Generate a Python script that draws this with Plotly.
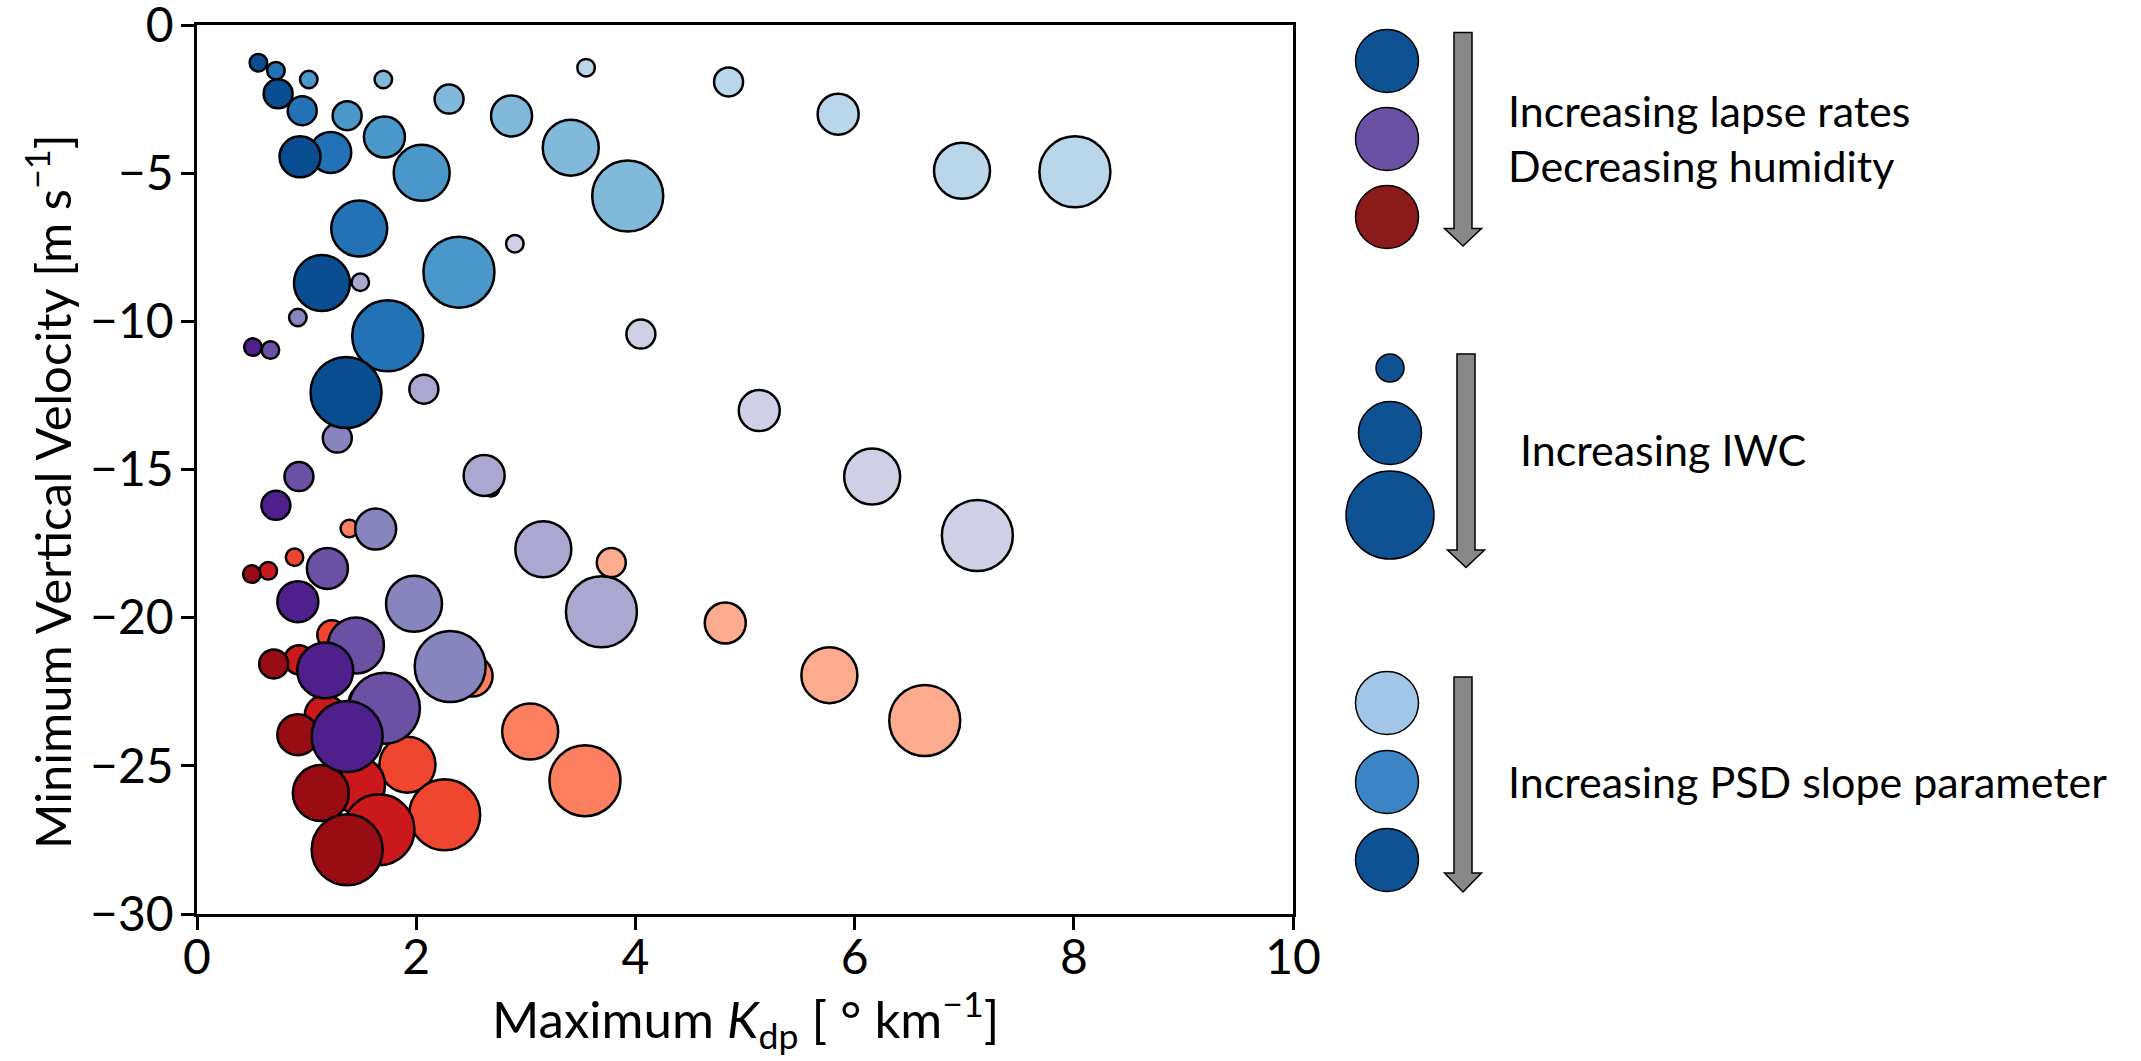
import plotly.graph_objects as go

# Each family holds 25 simulations, ordered by PSD slope level (0 = lowest)
# and, within a level, by IWC level (0 = smallest).
psd_level = [0] * 5 + [1] * 5 + [2] * 5 + [3] * 5 + [4] * 5
iwc_level = [0, 1, 2, 3, 4] * 5

# Moist, low lapse-rate environment (blues)
kdp_blue = [3.55, 4.85, 5.85, 6.98, 8.01,
            1.70, 2.30, 2.87, 3.41, 3.93,
            1.02, 1.37, 1.71, 2.05, 2.39,
            0.72, 0.96, 1.22, 1.48, 1.74,
            0.56, 0.74, 0.94, 1.14, 1.36]
w_blue = [-1.44, -1.92, -3.01, -4.92, -4.95,
          -1.84, -2.50, -3.07, -4.14, -5.77,
          -1.84, -3.06, -3.78, -4.99, -8.34,
          -1.54, -2.89, -4.30, -6.87, -10.49,
          -1.27, -2.32, -4.45, -8.71, -12.40]

# Intermediate environment (purples)
kdp_purple = [2.90, 4.05, 5.13, 6.16, 7.12,
              1.49, 2.07, 2.62, 3.16, 3.69,
              0.92, 1.28, 1.63, 1.98, 2.31,
              0.67, 0.93, 1.19, 1.45, 1.71,
              0.51, 0.72, 0.92, 1.17, 1.37]
w_purple = [-7.38, -10.43, -13.01, -15.24, -17.23,
            -8.68, -12.29, -15.20, -17.69, -19.80,
            -9.87, -13.94, -17.01, -19.53, -21.65,
            -10.97, -15.24, -18.34, -20.94, -23.06,
            -10.87, -16.21, -19.46, -21.78, -24.01]

# Dry, steep lapse-rate environment (reds)
kdp_red = [2.68, 3.78, 4.82, 5.77, 6.64,
           1.39, 1.95, 2.51, 3.04, 3.54,
           0.89, 1.23, 1.57, 1.92, 2.26,
           0.65, 0.93, 1.17, 1.46, 1.66,
           0.50, 0.70, 0.92, 1.13, 1.37]
w_red = [-15.62, -18.14, -20.18, -21.94, -23.47,
         -16.99, -19.70, -21.97, -23.84, -25.50,
         -17.96, -20.58, -22.90, -24.96, -26.65,
         -18.42, -21.42, -23.30, -25.64, -27.16,
         -18.53, -21.56, -23.95, -25.92, -27.83]

# ---- styles -------------------------------------------------------------
shade_colors = {
    "blue":   ["#b9d6ea", "#80b9da", "#4a98c9", "#2272b5", "#0b4d91"],
    "purple": ["#cfd0e6", "#aaa8d0", "#8884be", "#6a51a3", "#4f1f8b"],
    "red":    ["#fcab8e", "#fc7f5f", "#f0452f", "#cb181d", "#990c13"],
}
iwc_marker_size = [17.5, 29, 41, 56, 71]
FONT = "Lato, 'Open Sans', sans-serif"

W, H = 2141, 1061
L, R, T, B = 197, 848, 25, 147
PW, PH = W - L - R, H - T - B


def px(x):
    return (x - L) / PW


def py(y):
    return (H - B - y) / PH


fig = go.Figure()

for name, xs, ys in [("red", kdp_red, w_red),
                     ("purple", kdp_purple, w_purple),
                     ("blue", kdp_blue, w_blue)]:
    fig.add_trace(go.Scatter(
        x=xs, y=ys, mode="markers", name=name, showlegend=False,
        marker=dict(
            color=[shade_colors[name][s] for s in psd_level],
            size=[iwc_marker_size[i] for i in iwc_level],
            line=dict(color="black", width=2.5),
            opacity=1,
        ),
    ))

shapes = []


def key_circle(cx, cy, d, color):
    shapes.append(dict(
        type="circle", xref="paper", yref="paper",
        xsizemode="pixel", ysizemode="pixel",
        xanchor=px(cx), yanchor=py(cy),
        x0=-d / 2, x1=d / 2, y0=-d / 2, y1=d / 2,
        fillcolor=color, line=dict(color="black", width=1.5),
        layer="above",
    ))


def key_arrow(cx, top, head_top, tip, shaft_hw=9, head_hw=18.5):
    pts = [(cx - shaft_hw, top), (cx + shaft_hw, top), (cx + shaft_hw, head_top),
           (cx + head_hw, head_top), (cx, tip), (cx - head_hw, head_top),
           (cx - shaft_hw, head_top)]
    path = "M " + " L ".join(f"{px(a):.5f},{py(b):.5f}" for a, b in pts) + " Z"
    shapes.append(dict(
        type="path", xref="paper", yref="paper", path=path,
        fillcolor="#888888", line=dict(color="black", width=1.5), layer="above",
    ))


# Environment key
key_circle(1387, 61, 63, "#0f5294")
key_circle(1387, 139, 63, "#6a51a3")
key_circle(1387, 217, 63, "#8b1a1a")
key_arrow(1463, 32.5, 228.5, 246)

# IWC key
key_circle(1390, 368, 28, "#0f5294")
key_circle(1390, 433, 63, "#0f5294")
key_circle(1390, 515, 88, "#0f5294")
key_arrow(1466, 354, 550, 567.5)

# PSD slope key
key_circle(1387, 703, 63, "#a1c6e7")
key_circle(1387, 782, 63, "#3d84c6")
key_circle(1387, 860, 63, "#0f5294")
key_arrow(1463, 677, 873, 892)

annotations = []
for text, x, y in [("Increasing lapse rates", 1506, 111),
                   ("Decreasing humidity", 1506, 165),
                   ("Increasing IWC", 1518, 449),
                   ("Increasing PSD slope parameter", 1506, 781)]:
    annotations.append(dict(
        text=text, xref="paper", yref="paper", x=px(x), y=py(y),
        xanchor="left", yanchor="middle", showarrow=False,
        font=dict(family=FONT, size=43, color="black"),
    ))

# Axis titles
annotations.append(dict(
    text="Maximum <i>K</i><sub>dp</sub> [ ° km<sup>−1</sup>]",
    xref="paper", yref="paper", x=0.5, y=py(1019),
    xanchor="center", yanchor="middle", showarrow=False,
    font=dict(family=FONT, size=51, color="black"),
))
annotations.append(dict(
    text="Minimum Vertical Velocity [m s<sup>−1</sup>]",
    xref="paper", yref="paper", x=px(48), y=py(492),
    xanchor="center", yanchor="middle", textangle=-90, showarrow=False,
    font=dict(family=FONT, size=49, color="black"),
))

axis_common = dict(
    showgrid=False, zeroline=False, showline=True, mirror=True,
    linecolor="black", linewidth=2.5, ticks="outside", ticklen=13,
    tickwidth=2.5, tickcolor="black", ticklabeloverflow="allow",
    tickfont=dict(family=FONT, size=48, color="black"),
)

fig.update_layout(
    width=W, height=H,
    margin=dict(l=L, r=R, t=T, b=B, autoexpand=False),
    paper_bgcolor="white", plot_bgcolor="white",
    font=dict(family=FONT, color="black"),
    xaxis=dict(range=[0, 10], tickvals=[0, 2, 4, 6, 8, 10],
               ticklabelstandoff=-13, **axis_common),
    yaxis=dict(range=[-30, 0], tickvals=[0, -5, -10, -15, -20, -25, -30],
               ticklabelstandoff=-2, **axis_common),
    shapes=shapes,
    annotations=annotations,
)

fig.write_html("out.html")
